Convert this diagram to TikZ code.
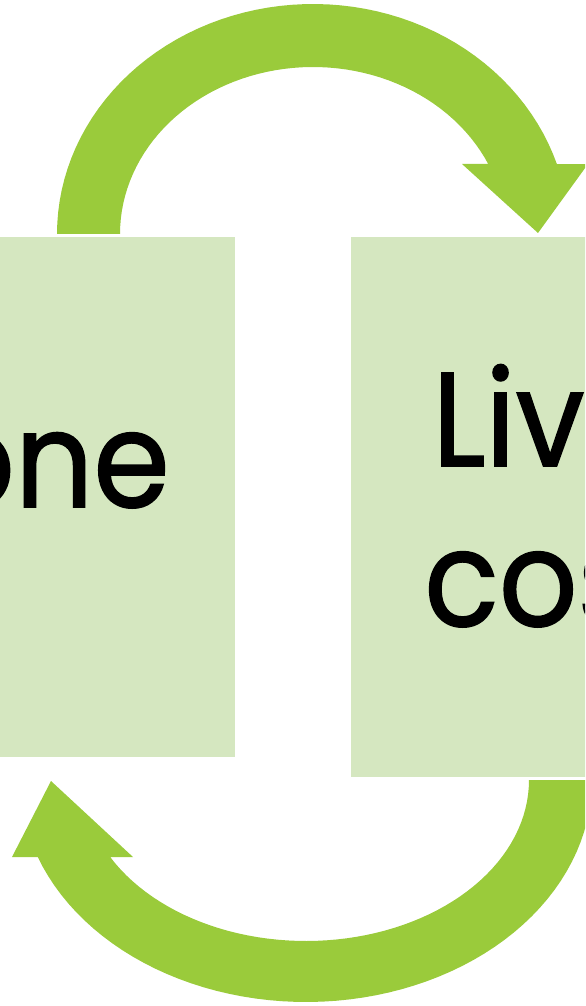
\documentclass[tikz,border=0pt]{standalone}
\usepackage{fontspec}
\setmainfont{Poppins}
\newfontfamily\wordfont[FakeStretch=0.92,FakeBold=1.2]{Poppins}
\definecolor{loopgreen}{HTML}{9ACB3B}
\definecolor{boxgreen}{HTML}{D5E7C0}
\begin{document}
\begin{tikzpicture}[x=0.02cm, y=-0.02cm,
    box/.style={fill=boxgreen, inner sep=0pt},
    word/.style={font=\wordfont\fontsize{76}{91}\selectfont, inner sep=0pt},
    loop/.style={fill=loopgreen}]
  \useasboundingbox (0,0) rectangle (585,1006);
  \clip (0,0) rectangle (585,1006);
  \node[box, minimum width=9cm, minimum height=10.4cm, anchor=north east] (leftbox) at (235,237) {};
  \node[box, minimum width=9cm, minimum height=10.8cm, anchor=north west] (rightbox) at (351,237) {};
  \node[word, anchor=base east] (lefttext) at (170,507) {one};
  \node[word, anchor=base west] (righttop) at (432,466) {Liv};
  \node[word, anchor=base west] (rightbottom) at (424,626) {cos};
  \fill[loop] plot[domain=180:342.3, samples=60] ({313+256*cos(\x)}, {234+230*sin(\x)})
    -- (588,164) -- (538,233) -- (462,164) -- (488,164)
    -- plot[domain=335.2:180, samples=60] ({313+193*cos(\x)}, {234+167*sin(\x)}) -- cycle;
  \fill[loop] plot[domain=0:159.7, samples=60] ({306+286*cos(\x)}, {780+222*sin(\x)})
    -- (12,857) -- (51,781) -- (133,857) -- (110,857)
    -- plot[domain=151.4:0, samples=60] ({306+223*cos(\x)}, {780+161*sin(\x)}) -- cycle;
\end{tikzpicture}
\end{document}
